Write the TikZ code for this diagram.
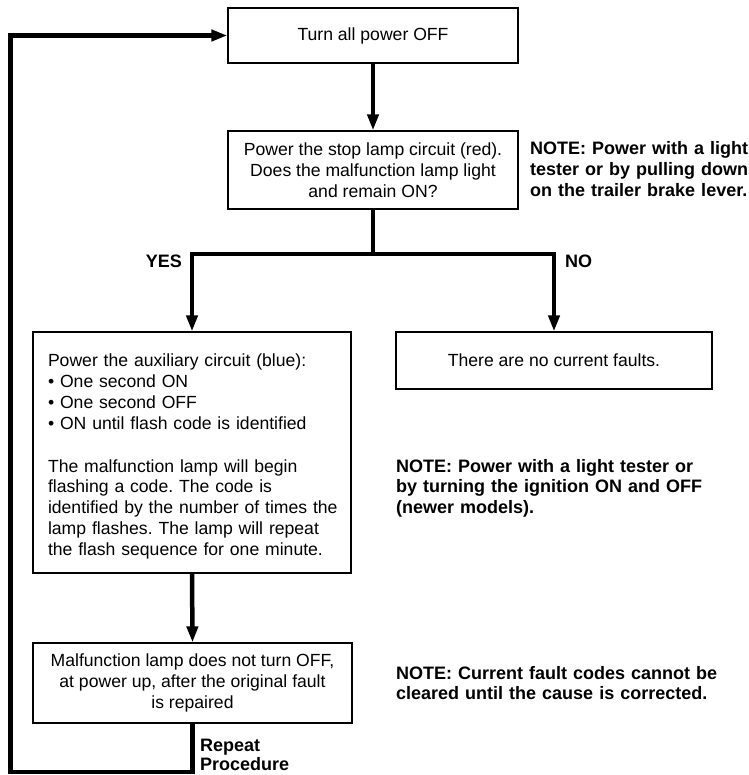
\documentclass[tikz,border=0pt]{standalone}
\usepackage{fontspec}
\setmainfont{Liberation Sans}
\usetikzlibrary{arrows.meta}
\frenchspacing
\begin{document}
\begin{tikzpicture}[x=1pt,y=-1pt,
  box/.style={draw, line width=1.2pt, inner sep=0pt, font=\fontsize{17.6}{20.8}\selectfont\frenchspacing, align=center},
  note/.style={font=\fontsize{18}{20.8}\selectfont\bfseries, align=left, inner sep=0pt, anchor=base west},
  flow/.style={line width=4.5pt},
  arr/.style={flow, -{Triangle[length=16pt,width=11pt]}}
]
\useasboundingbox (0,0) rectangle (748,775);

% boxes
\node[box, minimum width=290pt, minimum height=55pt] (b1) at (373,35.5) {Turn all power OFF};
\node[box, minimum width=290pt, minimum height=78pt] (b2) at (373,170)
  {Power the stop lamp circuit (red).\\Does the malfunction lamp light\\and remain ON?};
\node[box, minimum width=318pt, minimum height=241pt, inner xsep=15pt, text width=288pt, align=left] (b3) at (192,452.5)
  {\rule{0pt}{21pt}Power the auxiliary circuit (blue):\\
   \mbox{• One second ON}\\
   \mbox{• One second OFF}\\
   \mbox{• ON until flash code is identified}\\[22pt]
   \mbox{The malfunction lamp will begin}\\
   \mbox{flashing a code. The code is}\\
   \mbox{identified by the number of times the}\\
   \mbox{lamp flashes. The lamp will repeat}\\
   \mbox{the flash sequence for one minute.}};
\node[box, minimum width=316pt, minimum height=57pt] (b4) at (554,360.5) {There are no current faults.};
\node[box, minimum width=319pt, minimum height=80pt] (b5) at (192.5,683)
  {Malfunction lamp does not turn OFF,\\at power up, after the original fault\\is repaired};

% notes and labels
\node[note, text width=230pt] (n1) at (530,155) {NOTE: Power with a light\\tester or by pulling down\\on the trailer brake lever.};
\node[note, text width=330pt] (n2) at (396,472) {NOTE: Power with a light tester or\\by turning the ignition ON and OFF\\(newer models).};
\node[note, text width=340pt] (n3) at (396,679) {NOTE: Current fault codes cannot be\\cleared until the cause is corrected.};
\node[note, anchor=base east] (yes) at (182,268) {YES};
\node[note] (no) at (565,268) {NO};
\node[note, text width=100pt, font=\fontsize{18}{19.5}\selectfont\bfseries] (rp) at (200,751) {Repeat\\Procedure};

% connectors
\coordinate (j) at (373,254);
\coordinate (lc) at (10.5,772);
\draw[arr] (b1.south) -- (b2.north);
\draw[flow] (b2.south) -- (j);
\draw[arr] (j) -| (b3.north);
\draw[arr] (j) -| (b4.north);
\draw[arr] (b3.south) -- (b5.north);
\draw[arr] (b5.south) |- (lc) |- (b1.west);
\end{tikzpicture}
\end{document}
